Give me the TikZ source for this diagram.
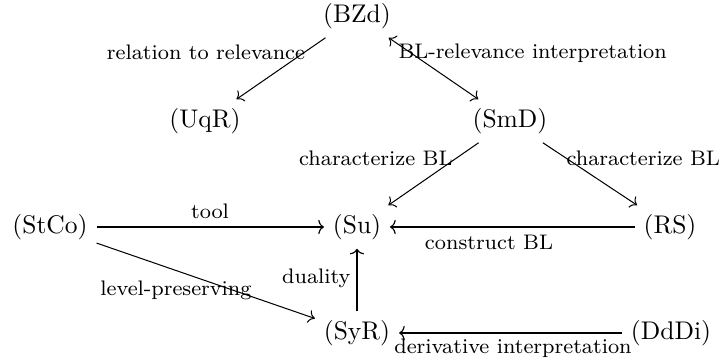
\documentclass[tikz,border=0pt]{standalone}
\usetikzlibrary{arrows.meta}
\begin{document}
\begin{tikzpicture}[x=0.392pt,y=-0.392pt,
  obj/.style={inner sep=3.333pt},
  lbl/.style={inner sep=0pt,font=\fontsize{8.25}{10}\selectfont},
  thin/.style={->,line width=0.4pt},
  thk/.style={-{To[line width=0.45pt,length=2.2pt,width=5.6pt]},line width=1.1pt}]
\useasboundingbox (0,0) rectangle (724,364);
% objects
\node[obj] (BZd)  at (357,16)  {(BZd)};
\node[obj] (UqR)  at (205,121) {(UqR)};
\node[obj] (SmD)  at (510,121) {(SmD)};
\node[obj] (StCo) at (50,227)  {(StCo)};
\node[obj] (Su)   at (357,227) {(Su)};
\node[obj] (RS)   at (670,227) {(RS)};
\node[obj] (SyR)  at (357,333) {(SyR)};
\node[obj] (DdDi) at (671,333) {(DdDi)};
% connectors
\draw[thin] (BZd) -- (UqR);
\draw[thin,<->] (BZd) -- (SmD);
\draw[thin] (SmD) -- (Su);
\draw[thin] (SmD) -- (RS);
\draw[thk] (StCo) -- (Su);
\draw[thk] (RS) -- (Su);
\draw[thk] (SyR) -- (Su);
\draw[thin] (StCo) -- (SyR);
\draw[thk] (DdDi) -- (SyR);
% labels
\node[lbl,anchor=base] (l1) at (206,60) {relation to relevance};
\node[lbl,anchor=base west] (l2) at (398,59) {BL-relevance interpretation};
\node[lbl,anchor=base east] (l3) at (453,166) {characterize BL};
\node[lbl,anchor=base west] (l4) at (566,166) {characterize BL};
\node[lbl,anchor=base] (l5) at (210,219) {tool};
\node[lbl,anchor=base] (l6) at (489,250) {construct BL};
\node[lbl,anchor=base east] (l7) at (351,284) {duality};
\node[lbl,anchor=base east] (l8) at (252,296) {level-preserving};
\node[lbl,anchor=base] (l9) at (513,354) {derivative interpretation};
\end{tikzpicture}
\end{document}
